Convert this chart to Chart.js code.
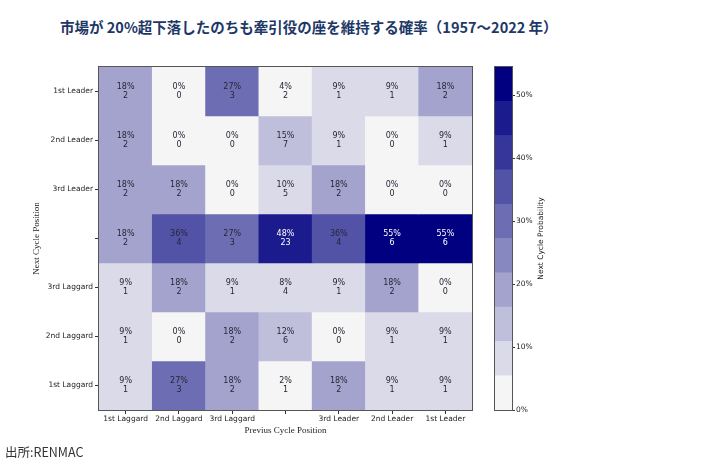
<!DOCTYPE html>
<html>
<head>
<meta charset="utf-8">
<script src="https://cdn.jsdelivr.net/npm/chart.js@4.4.1/dist/chart.umd.min.js"></script>
<style>
  body { margin: 0; width: 713px; height: 468px; background: #fff; position: relative; overflow: hidden; font-family: "Noto Sans CJK JP", sans-serif; }
  #title { position: absolute; left: 60px; top: 16px; font-size: 14.5px; font-weight: bold; color: #1d3866; white-space: nowrap; }
  #source { position: absolute; left: 5px; top: 442px; font-size: 12.5px; color: #333; white-space: nowrap; }
  #heat { position: absolute; left: 0; top: 0; }
  #cbar { position: absolute; left: 480px; top: 0; }
</style>
</head>
<body>
<div id="title">市場が 20%超下落したのちも牽引役の座を維持する確率（1957～2022 年）</div>
<canvas id="heat" width="713" height="468"></canvas>
<canvas id="cbar" width="100" height="468"></canvas>
<div id="source">出所:RENMAC</div>
<script>
// Columns: previous cycle position, rows: next cycle position (top to bottom)
const prevPositions = ['1st Laggard', '2nd Laggard', '3rd Laggard', '', '3rd Leader', '2nd Leader', '1st Leader'];
const nextPositions = ['1st Leader', '2nd Leader', '3rd Leader', '', '3rd Laggard', '2nd Laggard', '1st Laggard'];

// probability (%) shown in each cell
const pctRows = [
    [18, 0, 27, 4, 9, 9, 18],
    [18, 0, 0, 15, 9, 0, 9],
    [18, 18, 0, 10, 18, 0, 0],
    [18, 36, 27, 48, 36, 55, 55],
    [9, 18, 9, 8, 9, 18, 0],
    [9, 0, 18, 12, 0, 9, 9],
    [9, 27, 18, 2, 18, 9, 9]
];
// number of cases in each cell
const countRows = [
    [2, 0, 3, 2, 1, 1, 2],
    [2, 0, 0, 7, 1, 0, 1],
    [2, 2, 0, 5, 2, 0, 0],
    [2, 4, 3, 23, 4, 6, 6],
    [1, 2, 1, 4, 1, 2, 0],
    [1, 0, 2, 6, 0, 1, 1],
    [1, 3, 2, 1, 2, 1, 1]
];

// colour scale
const colorMax = 54.5;
const colorTicks = [0, 10, 20, 30, 40, 50];
const palette = ['#f5f5f5', '#dadae8', '#bfbfdb', '#a3a3ce', '#8888c1',
                 '#6d6db4', '#5252a7', '#36369a', '#1b1b8d', '#000080'];

function binIndex(p) {
    // labels are rounded, allow a little slack at the bin edges
    return Math.min(palette.length - 1, Math.floor(p / colorMax * palette.length + 0.05));
}

const tickFont = { family: '"DejaVu Sans"', size: 7.5 };

// Cell texts + frame
const cellLabels = {
    id: 'cellLabels',
    afterDatasetsDraw(chart) {
        const ctx = chart.ctx;
        ctx.save();
        ctx.font = '8px "DejaVu Sans"';
        ctx.textAlign = 'center';
        ctx.textBaseline = 'middle';
        chart.data.datasets.forEach(function(ds, r) {
            chart.getDatasetMeta(r).data.forEach(function(bar, c) {
                const p = bar.getProps(['x', 'y', 'base'], true);
                const cy = (p.y + p.base) / 2;
                ctx.fillStyle = binIndex(ds.pct[c]) >= 8 ? '#ffffff' : '#262637';
                ctx.fillText(ds.pct[c] + '%', p.x, cy - 4.5);
                ctx.fillText(String(ds.counts[c]), p.x, cy + 4.5);
            });
        });
        const a = chart.chartArea;
        ctx.strokeStyle = '#555';
        ctx.lineWidth = 1;
        ctx.strokeRect(Math.round(a.left) - 0.5, Math.round(a.top) - 0.5,
                       Math.round(a.right - a.left) + 1, Math.round(a.bottom - a.top) + 1);
        ctx.restore();
    }
};

function initializeHeatmap() {
    const heatCtx = document.getElementById('heat');

    const datasets = nextPositions.map(function(row, r) {
        return {
            label: row || 'row ' + r,
            data: prevPositions.map(function() { return [r, r + 1]; }),
            backgroundColor: pctRows[r].map(function(p) { return palette[binIndex(p)]; }),
            pct: pctRows[r],
            counts: countRows[r],
            barPercentage: 1,
            categoryPercentage: 1,
            grouped: false,
            borderWidth: 0
        };
    });

    new Chart(heatCtx, {
        type: 'bar',
        data: { labels: prevPositions, datasets: datasets },
        options: {
            responsive: false,
            animation: false,
            layout: { padding: { top: 67, left: 30, right: 241, bottom: 30 } },
            scales: {
                x: {
                    grid: { drawOnChartArea: false, offset: false, tickLength: 4, color: '#333' },
                    border: { display: false },
                    ticks: { font: tickFont, color: '#222', padding: 1, maxRotation: 0, autoSkip: false },
                    title: {
                        display: true,
                        text: 'Previus Cycle Position',
                        font: { family: '"Liberation Serif"', size: 9 },
                        color: '#222',
                        padding: { top: 0, bottom: 2 }
                    },
                    afterFit: function(scale) { scale.height = 28; }
                },
                y: {
                    type: 'linear',
                    reverse: true,
                    min: 0,
                    max: nextPositions.length,
                    grid: { drawOnChartArea: false, tickLength: 4, color: '#333' },
                    border: { display: false },
                    afterBuildTicks: function(scale) {
                        scale.ticks = nextPositions.map(function(_, i) { return { value: i + 0.5 }; });
                    },
                    ticks: {
                        font: tickFont,
                        color: '#222',
                        padding: 2,
                        autoSkip: false,
                        callback: function(value, index) { return nextPositions[index]; }
                    },
                    title: {
                        display: true,
                        text: 'Next Cycle Position',
                        font: { family: '"Liberation Serif"', size: 9 },
                        color: '#222',
                        padding: { top: 1, bottom: 0 }
                    },
                    afterFit: function(scale) { scale.width = 69; }
                }
            },
            plugins: {
                legend: { display: false },
                tooltip: { enabled: false }
            }
        },
        plugins: [cellLabels]
    });
}

// Colour bar
const colorbarDecor = {
    id: 'colorbarDecor',
    afterDatasetsDraw(chart) {
        const ctx = chart.ctx;
        const a = chart.chartArea;
        ctx.save();
        ctx.strokeStyle = '#555';
        ctx.lineWidth = 1;
        ctx.strokeRect(Math.round(a.left) - 0.5, Math.round(a.top) - 0.5,
                       Math.round(a.right - a.left) + 1, Math.round(a.bottom - a.top) + 1);
        ctx.translate(61, (a.top + a.bottom) / 2);
        ctx.rotate(-Math.PI / 2);
        ctx.font = '7.5px "DejaVu Sans"';
        ctx.fillStyle = '#222';
        ctx.textAlign = 'center';
        ctx.textBaseline = 'middle';
        ctx.fillText('Next Cycle Probability', 0, 0);
        ctx.restore();
    }
};

function initializeColorbar() {
    const cbarCtx = document.getElementById('cbar');
    const step = colorMax / palette.length;

    const datasets = palette.map(function(col, k) {
        return {
            data: [[k * step, (k + 1) * step]],
            backgroundColor: col,
            barPercentage: 1,
            categoryPercentage: 1,
            grouped: false,
            borderWidth: 0
        };
    });

    new Chart(cbarCtx, {
        type: 'bar',
        data: { labels: ['p'], datasets: datasets },
        options: {
            responsive: false,
            animation: false,
            layout: { padding: { top: 67, left: 15, right: 28, bottom: 58 } },
            scales: {
                x: { display: false },
                y: {
                    position: 'right',
                    min: 0,
                    max: colorMax,
                    grid: { drawOnChartArea: false, tickLength: 3, color: '#333' },
                    border: { display: false },
                    afterBuildTicks: function(scale) {
                        scale.ticks = colorTicks.map(function(v) { return { value: v }; });
                    },
                    ticks: {
                        font: tickFont,
                        color: '#222',
                        padding: 1,
                        callback: function(value) { return value + '%'; }
                    },
                    afterFit: function(scale) { scale.width = 40; }
                }
            },
            plugins: {
                legend: { display: false },
                tooltip: { enabled: false }
            }
        },
        plugins: [colorbarDecor]
    });
}

document.addEventListener('DOMContentLoaded', function() {
    initializeHeatmap();
    initializeColorbar();
});
</script>
</body>
</html>
